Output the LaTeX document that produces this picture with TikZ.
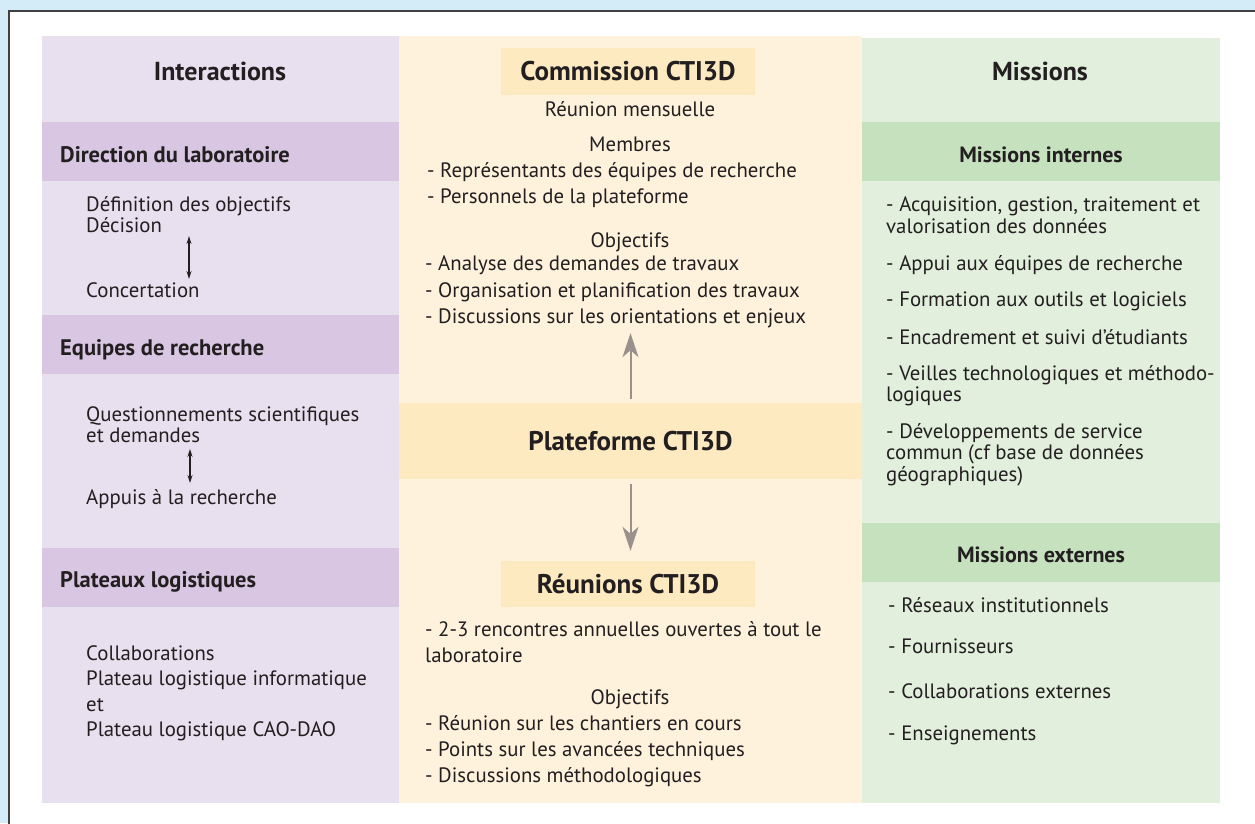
\documentclass[tikz,border=0pt]{standalone}
\usepackage{fontspec}
\setmainfont{PT Sans}
\usetikzlibrary{arrows.meta, positioning}
\definecolor{skyframe}{HTML}{D3ECF8}
\definecolor{lilacbg}{HTML}{E8E0EE}
\definecolor{lilacband}{HTML}{D8C6E2}
\definecolor{creambg}{HTML}{FEF2DC}
\definecolor{creamband}{HTML}{FDEAC0}
\definecolor{mintbg}{HTML}{E1EFDC}
\definecolor{mintband}{HTML}{C5E1BE}
\definecolor{inkdark}{HTML}{231F20}
\definecolor{arrowgray}{HTML}{9A918D}

\begin{document}
\begin{tikzpicture}[x=1pt, y=-1pt,
		body/.style={font=\fontsize{20.8}{21.5}\selectfont, text=inkdark, inner sep=0pt, align=left, anchor=north west},
		bodywide/.style={body, font=\fontsize{20.8}{26.3}\selectfont},
		colhead/.style={font=\fontsize{26}{28}\selectfont\bfseries, text=inkdark, inner sep=0pt},
		bandhead/.style={font=\fontsize{22.5}{25}\selectfont\bfseries, text=inkdark, inner sep=0pt, anchor=base west},
		mhead/.style={font=\fontsize{22}{24}\selectfont\bfseries, text=inkdark, inner sep=0pt, anchor=base},
		titlebox/.style={fill=creamband, font=\fontsize{27}{30}\selectfont\bfseries, text=inkdark, inner sep=0pt},
		twoway/.style={draw=inkdark, line width=1.1pt, {Stealth[length=8pt, width=5pt]}-{Stealth[length=8pt, width=5pt]}},
		bigarrow/.style={draw=arrowgray, line width=2pt, -{Stealth[length=24pt, width=16pt, inset=7pt]}}]
	\useasboundingbox (0,0) rectangle (1255,823);
	
	% Frame
	\fill[skyframe] (0,0) rectangle (1255,823);
	\fill[white] (9,11) rectangle (1256,824);
	\draw[line width=1.5pt, black!75] (9,824) -- (9,11) -- (1256,11);
	
	% Columns and bands
	\fill[lilacbg] (42,36) rectangle (399,803);
	\fill[creambg] (399,36) rectangle (862,803);
	\fill[mintbg] (862,38) rectangle (1220,803);
	\foreach \y in {122,315,548}
		\fill[lilacband] (42,\y) rectangle (399,\y+59);
	\foreach \y in {122,523}
		\fill[mintband] (862,\y) rectangle (1220,\y+59);
	
	% Interactions
	\node[colhead] (inter) at (220,71) {Interactions};
	\node[bandhead] (dirlab) at (60,162) {Direction du laboratoire};
	\node[body] (defobj) at (86,196) {Définition des objectifs\\Décision};
	\node[body] (concert) at (86,282) {Concertation};
	\node[bandhead] (equip) at (60,355) {Equipes de recherche};
	\node[body] (quest) at (86,406) {Questionnements scientifiques\\et demandes};
	\node[body] (appuis) at (86,489) {Appuis à la recherche};
	\node[bandhead] (plateaux) at (60,587) {Plateaux logistiques};
	\node[body, font=\fontsize{20.8}{25.5}\selectfont] (collab) at (86,645) {Collaborations\\Plateau logistique informatique\\et\\Plateau logistique CAO-DAO};
	\draw[twoway, shorten <=3pt, shorten >=3pt] ([xshift=103pt]defobj.south west) -- ([xshift=103pt]concert.north west);
	\draw[twoway, shorten <=6pt, shorten >=6pt] ([xshift=104pt]quest.south west) -- ([xshift=104pt]appuis.north west);
	
	% Commission, plateforme, reunions
	\node[titlebox, minimum width=254pt, minimum height=47pt] (comm) at (628,71.5) {Commission CTI3D};
	\node[body, anchor=base, align=center] (mensuel) at (630,116) {Réunion mensuelle};
	\node[body, anchor=base, align=center] (membres) at (630,151) {Membres};
	\node[bodywide] (memlist) at (427,162) {- Représentants des équipes de recherche\\- Personnels de la plateforme};
	\node[body, anchor=base, align=center] (objA) at (630,247) {Objectifs};
	\node[bodywide] (objC) at (425,256) {- Analyse des demandes de travaux\\- Organisation et planification des travaux\\- Discussions sur les orientations et enjeux};
	\node[titlebox, minimum width=463pt, minimum height=76pt] (plat) at (630.5,441) {Plateforme CTI3D};
	\node[titlebox, minimum width=254pt, minimum height=46pt] (reun) at (628,584) {Réunions CTI3D};
	\node[bodywide, font=\fontsize{20.8}{26}\selectfont] (renc) at (425,621) {- 2-3 rencontres annuelles ouvertes à tout le\\laboratoire};
	\node[body, anchor=base, align=center] (objB) at (630,704) {Objectifs};
	\node[bodywide] (objR) at (425,715) {- Réunion sur les chantiers en cours\\- Points sur les avancées techniques\\- Discussions méthodologiques};
	\draw[bigarrow, shorten <=4pt, shorten >=5pt] (plat.north) -- (plat.north |- objC.south);
	\draw[bigarrow, shorten <=5pt, shorten >=10pt] (plat.south) -- (plat.south |- reun.north);
	
	% Missions
	\node[colhead] (missions) at (1040,71) {Missions};
	\node[mhead] (mint) at (1041,162) {Missions internes};
	\node[body] (acq) at (886,197) {- Acquisition, gestion, traitement et\\valorisation des données};
	\node[body] (appui) at (886,255) {- Appui aux équipes de recherche};
	\node[body] (forma) at (886,292) {- Formation aux outils et logiciels};
	\node[body] (encad) at (886,329) {- Encadrement et suivi d’étudiants};
	\node[body] (veille) at (886,365) {- Veilles technologiques et méthodo-\\logiques};
	\node[body] (devel) at (886,423) {- Développements de service\\commun (cf base de données\\géographiques)};
	\node[mhead] (mext) at (1041,562) {Missions externes};
	\node[body] (reseau) at (888,597) {- Réseaux institutionnels};
	\node[body] (fourn) at (888,639) {- Fournisseurs};
	\node[body] (colext) at (888,683) {- Collaborations externes};
	\node[body] (enseig) at (888,726) {- Enseignements};
\end{tikzpicture}
\end{document}
